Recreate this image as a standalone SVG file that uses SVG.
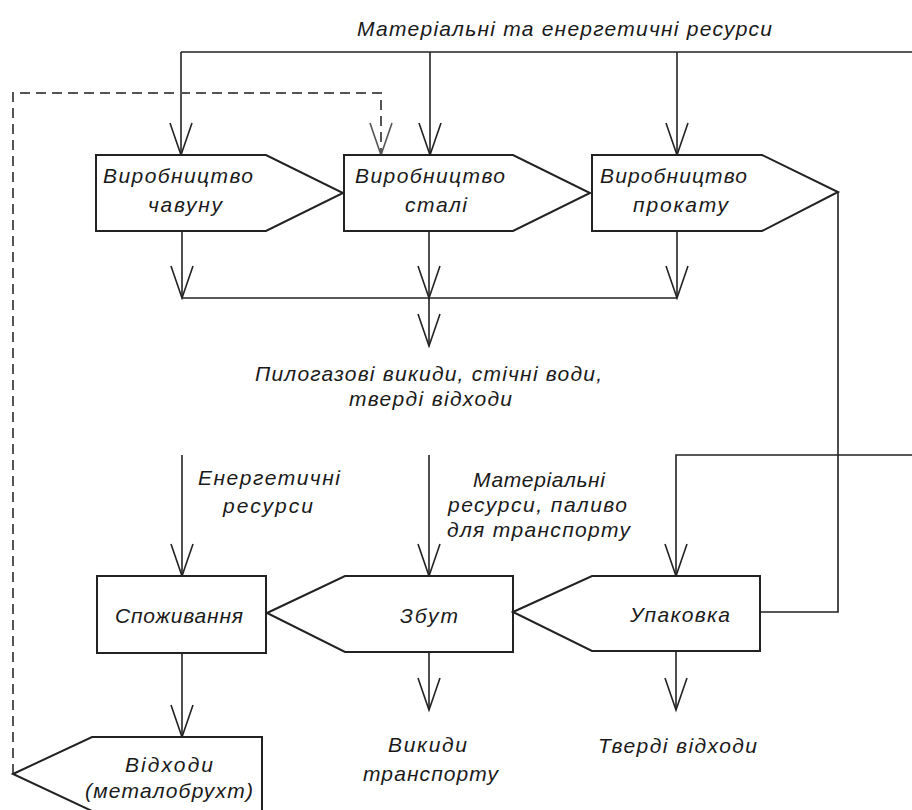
<svg xmlns="http://www.w3.org/2000/svg" width="912" height="810" viewBox="0 0 912 810">
<style>
.n{fill:#fff;stroke:#222;stroke-width:2}
.c{fill:none;stroke:#222;stroke-width:1.6}
.d{fill:none;stroke:#555;stroke-width:2;stroke-dasharray:10 6}
text{font-family:"Liberation Sans",Arial,sans-serif;font-style:italic;font-size:21px;fill:#1a1a1a}
</style>
<defs>
<marker id="a" markerUnits="userSpaceOnUse" markerWidth="40" markerHeight="30" viewBox="-36 -15 40 30" refX="0" refY="0" orient="auto" overflow="visible"><path d="M-32,-11 L0,0 L-32,11" fill="none" stroke="#222" stroke-width="1.6"/></marker>
<marker id="ad" markerUnits="userSpaceOnUse" markerWidth="40" markerHeight="30" viewBox="-36 -15 40 30" refX="0" refY="0" orient="auto" overflow="visible"><path d="M-32,-11 L0,0 L-32,11" fill="none" stroke="#555" stroke-width="1.6"/></marker>
</defs>
<rect width="912" height="810" fill="#fff"/>
<g id="connectors">
<path class="c" d="M181,52 H912"/>
<path class="c" d="M181,52 V155" marker-end="url(#a)"/>
<path class="c" d="M430,52 V155" marker-end="url(#a)"/>
<path class="c" d="M677,52 V155" marker-end="url(#a)"/>
<path class="d" d="M13,774 V93 H381 V155" marker-end="url(#ad)"/>
<path class="c" d="M182,231 V298" marker-end="url(#a)"/>
<path class="c" d="M429,231 V298" marker-end="url(#a)"/>
<path class="c" d="M677,231 V298" marker-end="url(#a)"/>
<path class="c" d="M182,298 H677"/>
<path class="c" d="M429,298 V346" marker-end="url(#a)"/>
<path class="c" d="M838,192 V612 H760"/>
<path class="c" d="M912,455 H676 V576" marker-end="url(#a)"/>
<path class="c" d="M182,455 V576" marker-end="url(#a)"/>
<path class="c" d="M429,455 V576" marker-end="url(#a)"/>
<path class="c" d="M182,653 V737" marker-end="url(#a)"/>
<path class="c" d="M429,652 V710" marker-end="url(#a)"/>
<path class="c" d="M676,651 V710" marker-end="url(#a)"/>
</g>
<g id="label-top"><text x="357" y="36" textLength="415" lengthAdjust="spacing">Матеріальні та енергетичні ресурси</text></g>
<g id="n-chavun">
<polygon class="n" points="96,155 266,155 343,193 266,231 96,231"/>
<text x="103" y="183" textLength="150" lengthAdjust="spacing">Виробництво</text>
<text x="148" y="212" textLength="74" lengthAdjust="spacing">чавуну</text>
</g>
<g id="n-stal">
<polygon class="n" points="344,155 513,155 590,193 513,231 344,231"/>
<text x="355" y="183" textLength="150" lengthAdjust="spacing">Виробництво</text>
<text x="405" y="212" textLength="62" lengthAdjust="spacing">сталі</text>
</g>
<g id="n-prokat">
<polygon class="n" points="592,155 762,155 838,192 762,231 592,231"/>
<text x="600" y="183" textLength="147" lengthAdjust="spacing">Виробництво</text>
<text x="633" y="212" textLength="95" lengthAdjust="spacing">прокату</text>
</g>
<g id="label-emissions">
<text x="255" y="381" textLength="347" lengthAdjust="spacing">Пилогазові викиди, стічні води,</text>
<text x="349" y="406" textLength="163" lengthAdjust="spacing">тверді відходи</text>
</g>
<g id="label-energy">
<text x="198" y="485" textLength="142" lengthAdjust="spacing">Енергетичні</text>
<text x="223" y="513" textLength="90" lengthAdjust="spacing">ресурси</text>
</g>
<g id="label-material">
<text x="473" y="487" textLength="132" lengthAdjust="spacing">Матеріальні</text>
<text x="448" y="512" textLength="179" lengthAdjust="spacing">ресурси, паливо</text>
<text x="447" y="537" textLength="183" lengthAdjust="spacing">для транспорту</text>
</g>
<g id="n-spozhyvannia">
<rect class="n" x="97" y="576" width="169" height="77"/>
<text x="115" y="623" textLength="128" lengthAdjust="spacing">Споживання</text>
</g>
<g id="n-zbut">
<polygon class="n" points="267,613 345,576 513,576 513,652 345,652"/>
<text x="400" y="623" textLength="58" lengthAdjust="spacing">Збут</text>
</g>
<g id="n-upakovka">
<polygon class="n" points="513,612 592,576 760,576 760,651 592,651"/>
<text x="630" y="622" textLength="100" lengthAdjust="spacing">Упаковка</text>
</g>
<g id="n-vidkhody">
<polygon class="n" points="13,774 92,737 262,737 262,811 92,811"/>
<text x="125" y="772" textLength="88" lengthAdjust="spacing">Відходи</text>
<text x="85" y="798" textLength="168" lengthAdjust="spacing">(металобрухт)</text>
</g>
<g id="label-transport">
<text x="388" y="752" textLength="79" lengthAdjust="spacing">Викиди</text>
<text x="363" y="781" textLength="135" lengthAdjust="spacing">транспорту</text>
</g>
<g id="label-solid"><text x="598" y="753" textLength="159" lengthAdjust="spacing">Тверді відходи</text></g>
</svg>
